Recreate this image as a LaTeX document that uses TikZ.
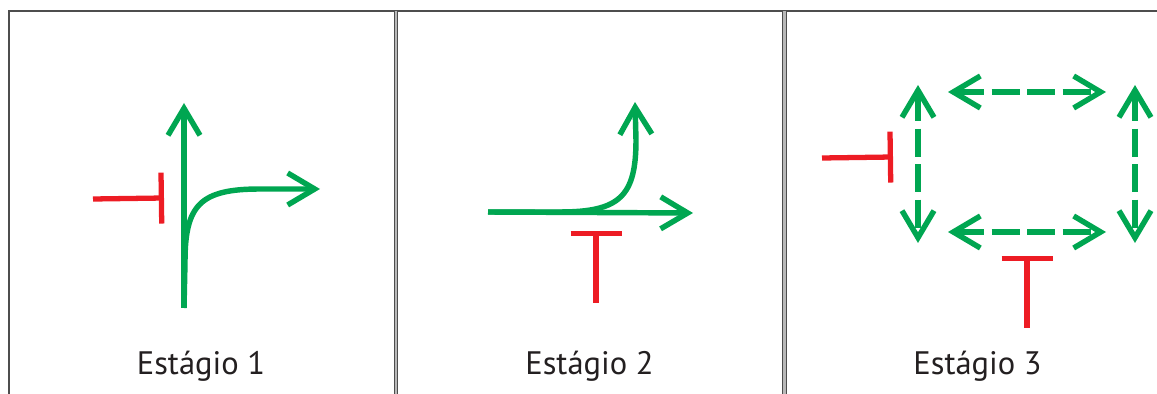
\documentclass[tikz,border=0pt]{standalone}
\usepackage{fontspec}
\setmainfont{PT Sans}
\usepackage{xcolor}
\usetikzlibrary{arrows.meta, positioning}
\definecolor{actgreen}{HTML}{00A651}
\definecolor{inhred}{HTML}{ED1C24}
\definecolor{framegray}{HTML}{4D4D4D}
\definecolor{labeltext}{HTML}{231F20}

\begin{document}
\begin{tikzpicture}[
    x=0.02cm, y=-0.02cm,
    barb/.tip={Straight Barb[length=5.4mm, width=6.4mm, sharp]},
    act/.style={draw=actgreen, line width=3.1pt, -barb},
    dact/.style={draw=actgreen, line width=3.1pt, barb-barb, dash pattern=on 5.6mm off 1.5mm},
    inh/.style={draw=inhred, line width=3pt, -{Bar[width=10.2mm]}},
    frame/.style={draw=framegray, line width=1.1pt},
    divider/.style={draw=framegray, line width=0.5pt, double=framegray!40, double distance=1.3pt},
    stage/.style={font=\fontsize{18.5}{20}\selectfont, text=labeltext, anchor=base}
]
    \useasboundingbox (0,0) rectangle (1157,394);

    % frame
    \draw[frame] (9,394) -- (9,11) -- (1157,11);
    \draw[divider] (396,11) -- (396,394);
    \draw[divider] (784.5,11) -- (784.5,394);

    % Estagio 1
    \coordinate (s1base) at (184,308);
    \coordinate (s1bend) at (185,262);
    \coordinate (s1up) at (184,103);
    \coordinate (s1right) at (320,189);
    \coordinate (s1inh) at (93,199);
    \coordinate (s1bar) at (164,198);
    \draw[act] (s1base) -- (s1up);
    \draw[act] (s1base) -- (s1bend) .. controls (185,205) and (200,189) .. (260,189) -- (s1right);
    \draw[inh] (s1inh) -- (s1bar);
    \node[stage] (lbla) at (201,375) {Estágio 1};

    % Estagio 2
    \coordinate (s2start) at (488,212);
    \coordinate (s2bend) at (560,212);
    \coordinate (s2right) at (693,213);
    \coordinate (s2up) at (635,102);
    \coordinate (s2inh) at (596,303);
    \coordinate (s2bar) at (596,231);
    \draw[act] (s2start) -- (s2right);
    \draw[act] (s2start) -- (s2bend) .. controls (620,212) and (636,196) .. (636,140) -- (s2up);
    \draw[inh] (s2inh) -- (s2bar);
    \node[stage] (lblb) at (589.5,375) {Estágio 2};

    % Estagio 3
    \coordinate (tl) at (918,85);
    \coordinate (bl) at (918,243);
    \coordinate (tr) at (1135,85);
    \coordinate (br) at (1135,243);
    \coordinate (tw) at (948,92);
    \coordinate (te) at (1106,92);
    \coordinate (bw) at (948,232);
    \coordinate (be) at (1106,232);
    \draw[dact] (tl) -- (bl);
    \draw[dact] (tr) -- (br);
    \draw[dact] (tw) -- (te);
    \draw[dact] (bw) -- (be);
    \coordinate (s3inh) at (822,158);
    \coordinate (s3bar) at (893,157);
    \coordinate (s3inhb) at (1027,328);
    \coordinate (s3barb) at (1027,256);
    \draw[inh] (s3inh) -- (s3bar);
    \draw[inh] (s3inhb) -- (s3barb);
    \node[stage] (lblc) at (977.5,375) {Estágio 3};
\end{tikzpicture}
\end{document}
